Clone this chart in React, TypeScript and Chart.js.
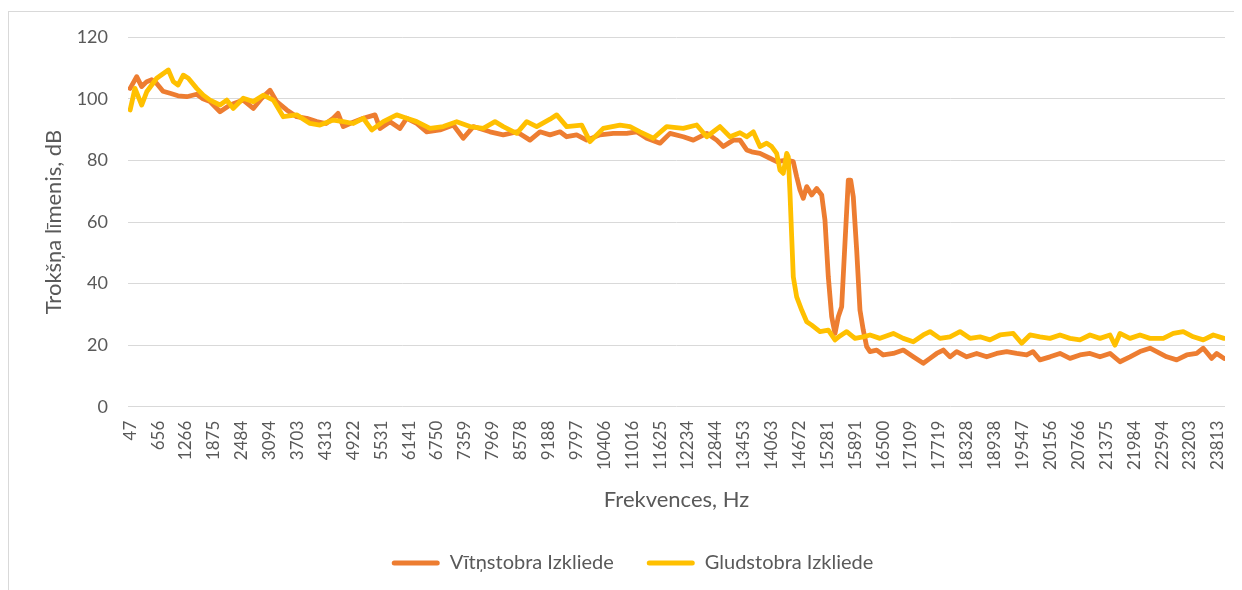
import { useEffect, useRef } from 'react';
import { Chart, registerables } from 'chart.js';

Chart.register(...registerables);

const TEXT = '#595959';
const GRID = '#d9d9d9';
const ORANGE = '#ED7D31';
const YELLOW = '#FFC000';
const FONT = 'Lato, "Open Sans", sans-serif';

const seriesNames = ['Vītņstobra Izkliede', 'Gludstobra Izkliede'];
const xTitle = 'Frekvences, Hz';
const yTitle = 'Trokšņa līmenis, dB';

const xTickLabels = [47, 656, 1266, 1875, 2484, 3094, 3703, 4313, 4922, 5531, 6141, 6750, 7359, 7969, 8578, 9188, 9797, 10406, 11016, 11625, 12234, 12844, 13453, 14063, 14672, 15281, 15891, 16500, 17109, 17719, 18328, 18938, 19547, 20156, 20766, 21375, 21984, 22594, 23203, 23813];
const yTickValues = [0, 20, 40, 60, 80, 100, 120];

const orangeHz = [47, 190, 299, 409, 518, 627, 765, 918, 1093, 1283, 1501, 1639, 1792, 2010, 2229, 2519, 2738, 2921, 3103, 3249, 3468, 3686, 3905, 4123, 4326, 4486, 4589, 4704, 4851, 5141, 5397, 5506, 5725, 5943, 6090, 6308, 6527, 6817, 7108, 7326, 7545, 7910, 8200, 8493, 8784, 9002, 9221, 9439, 9586, 9804, 10023, 10313, 10604, 10897, 11115, 11334, 11624, 11843, 12133, 12352, 12645, 12863, 13007, 13226, 13372, 13519, 13628, 13809, 14028, 14174, 14393, 14537, 14611, 14683, 14755, 14830, 14939, 15048, 15157, 15229, 15302, 15376, 15448, 15520, 15594, 15666, 15739, 15791, 15848, 15922, 15994, 16066, 16141, 16213, 16359, 16503, 16722, 16940, 17159, 17377, 17524, 17670, 17814, 17961, 18107, 18326, 18544, 18763, 18981, 19200, 19418, 19637, 19774, 19927, 20146, 20364, 20583, 20801, 21020, 21238, 21457, 21675, 21894, 22112, 22331, 22477, 22696, 22914, 23133, 23351, 23495, 23679, 23788, 23948];
const orangeDb = [103.4, 107.2, 104, 105.6, 106.2, 105, 102.5, 101.8, 101, 100.7, 101.5, 100, 99.1, 95.8, 98, 99.6, 96.9, 100.2, 102.8, 99.1, 96.4, 94.2, 93.7, 92.6, 92, 93.7, 95.3, 91, 92, 93.7, 94.8, 90.4, 92.6, 90.4, 93.7, 92, 89.3, 89.9, 91.5, 87.2, 91, 89.3, 88.3, 89.3, 86.6, 89.3, 88.3, 89.3, 87.7, 88.3, 86.6, 88.3, 88.8, 88.8, 89.3, 87.2, 85.6, 88.8, 87.7, 86.6, 88.8, 86.6, 84.5, 86.6, 86.6, 83.4, 82.8, 82.3, 80.7, 79.6, 80.1, 79.6, 74.7, 70.4, 67.7, 71.5, 68.8, 70.9, 68.8, 60.6, 42.2, 29.2, 23.8, 29.2, 32.5, 53.1, 73.6, 73.6, 68.2, 50.9, 31.4, 24.9, 19.5, 17.9, 18.4, 16.8, 17.3, 18.4, 16.2, 14.1, 15.7, 17.3, 18.4, 16.2, 17.9, 16.2, 17.3, 16.2, 17.3, 17.9, 17.3, 16.8, 17.9, 15.2, 16.2, 17.3, 15.7, 16.8, 17.3, 16.2, 17.3, 14.6, 16.2, 17.9, 19, 17.9, 16.2, 15.2, 16.8, 17.3, 19, 15.7, 17.3, 15.7];

const yellowHz = [47, 153, 299, 409, 627, 881, 990, 1093, 1208, 1318, 1501, 1645, 1792, 2010, 2157, 2301, 2519, 2738, 2956, 3175, 3393, 3686, 3977, 4195, 4486, 4704, 4923, 5141, 5325, 5578, 5871, 6090, 6308, 6599, 6889, 7182, 7473, 7763, 8019, 8200, 8493, 8712, 8930, 9221, 9367, 9586, 9913, 10095, 10385, 10750, 10969, 11187, 11478, 11771, 12133, 12426, 12645, 12935, 13154, 13372, 13519, 13663, 13809, 13956, 14065, 14174, 14246, 14318, 14393, 14428, 14465, 14502, 14537, 14611, 14720, 14830, 14939, 15120, 15302, 15448, 15557, 15704, 15885, 16066, 16213, 16431, 16722, 16940, 17159, 17377, 17524, 17742, 17961, 18179, 18398, 18616, 18835, 19053, 19344, 19527, 19709, 19927, 20146, 20364, 20583, 20801, 21020, 21238, 21457, 21566, 21675, 21894, 22112, 22331, 22621, 22840, 23058, 23277, 23495, 23714, 23948];
const yellowDb = [96.4, 103.4, 98, 102.3, 106.7, 109.4, 105.6, 104.5, 107.7, 106.7, 103.4, 101.2, 99.6, 98, 99.6, 96.9, 100.2, 99.1, 101.2, 99.6, 94.2, 94.8, 92, 91.5, 93.1, 92.6, 92, 93.7, 89.9, 92.6, 94.8, 93.7, 92.6, 90.4, 91, 92.6, 91, 90.4, 92.6, 91, 88.8, 92.6, 91, 93.4, 94.8, 91, 91.5, 86.1, 90.4, 91.5, 91, 89.3, 87.2, 91, 90.4, 91.5, 87.7, 91, 87.7, 89, 87.7, 89.3, 84.5, 85.6, 84.5, 82.3, 76.9, 75.8, 82.3, 81.2, 69.3, 55.2, 42.2, 35.7, 31.4, 27.6, 26.5, 24.4, 24.9, 21.7, 23, 24.4, 22.2, 22.7, 23.3, 22.2, 23.8, 22.2, 21.1, 23.3, 24.4, 22.2, 22.7, 24.4, 22.2, 22.7, 21.7, 23.3, 23.8, 20.6, 23.3, 22.7, 22.2, 23.3, 22.2, 21.7, 23.3, 22.2, 23.3, 20, 23.8, 22.2, 23.3, 22.2, 22.2, 23.8, 24.4, 22.7, 21.7, 23.3, 22.2];

export default function App() {
  const ref = useRef<HTMLCanvasElement>(null);

  useEffect(() => {
    document.documentElement.style.overflow = 'hidden';
    document.body.style.overflow = 'hidden';
    const canvas = ref.current;
    if (!canvas) return;
    const lineStyle = {
      borderWidth: 4.8,
      pointRadius: 0,
      borderCapStyle: 'round' as const,
      borderJoinStyle: 'round' as const,
      tension: 0,
    };
    const chart = new Chart(canvas, {
      type: 'line',
      data: {
        datasets: [
          {
            label: seriesNames[0],
            data: orangeHz.map((x, i) => ({ x, y: orangeDb[i] })),
            borderColor: ORANGE,
            backgroundColor: ORANGE,
            order: 1,
            ...lineStyle,
          },
          {
            label: seriesNames[1],
            data: yellowHz.map((x, i) => ({ x, y: yellowDb[i] })),
            borderColor: YELLOW,
            backgroundColor: YELLOW,
            order: 0,
            ...lineStyle,
          },
        ],
      },
      options: {
        responsive: false,
        animation: false,
        events: [],
        layout: { padding: { left: 31, top: 25.3, right: 9, bottom: 7 } },
        plugins: {
          tooltip: { enabled: false },
          legend: {
            position: 'bottom',
            labels: {
              boxWidth: 48,
              boxHeight: 5,
              padding: 33,
              color: TEXT,
              font: { family: FONT, size: 20 },
              generateLabels: (c: any) =>
                c.data.datasets.map((ds: any, i: number) => ({
                  text: ds.label,
                  fillStyle: ds.borderColor,
                  strokeStyle: ds.borderColor,
                  lineWidth: 0,
                  hidden: false,
                  datasetIndex: i,
                  borderRadius: 2.5,
                  fontColor: TEXT,
                })),
            },
          },
        },
        scales: {
          x: {
            type: 'linear',
            min: 0,
            max: 23970,
            afterBuildTicks: (axis: any) => {
              axis.ticks = xTickLabels.map((v) => ({ value: v }));
            },
            afterFit: (s: any) => {
              s.height = 113.3;
              s.paddingLeft = 0;
              s.paddingRight = 0;
            },
            grid: { display: false, drawTicks: false },
            border: { display: false },
            ticks: {
              autoSkip: false,
              minRotation: 90,
              maxRotation: 90,
              padding: 14,
              color: TEXT,
              font: { family: FONT, size: 17 },
              callback: (v: any) => String(v),
            },
            title: {
              display: true,
              text: xTitle,
              color: TEXT,
              font: { family: FONT, size: 22 },
              padding: { top: 0, bottom: 6.8 },
            },
          },
          y: {
            min: 0,
            max: 120,
            afterBuildTicks: (axis: any) => {
              axis.ticks = yTickValues.map((v) => ({ value: v }));
            },
            afterFit: (s: any) => {
              s.width = 88;
              s.paddingTop = 0;
              s.paddingBottom = 0;
            },
            grid: { color: GRID, lineWidth: 1, drawTicks: false },
            border: { display: false },
            ticks: {
              padding: 20,
              color: TEXT,
              font: { family: FONT, size: 18 },
              callback: (v: any) => String(v),
            },
            title: {
              display: true,
              text: yTitle,
              color: TEXT,
              font: { family: FONT, size: 22 },
              padding: { top: 0.8, bottom: 0 },
            },
          },
        },
      },
    });
    return () => chart.destroy();
  }, []);

  return (
    <div style={{ paddingTop: 3 }}>
      <div
        style={{
          width: 1226,
          height: 579,
          borderLeft: `1px solid ${GRID}`,
          borderTop: `1px solid ${GRID}`,
          boxSizing: 'border-box',
        }}
      >
        <canvas ref={ref} width={1225} height={578} style={{ display: 'block' }} />
      </div>
    </div>
  );
}
